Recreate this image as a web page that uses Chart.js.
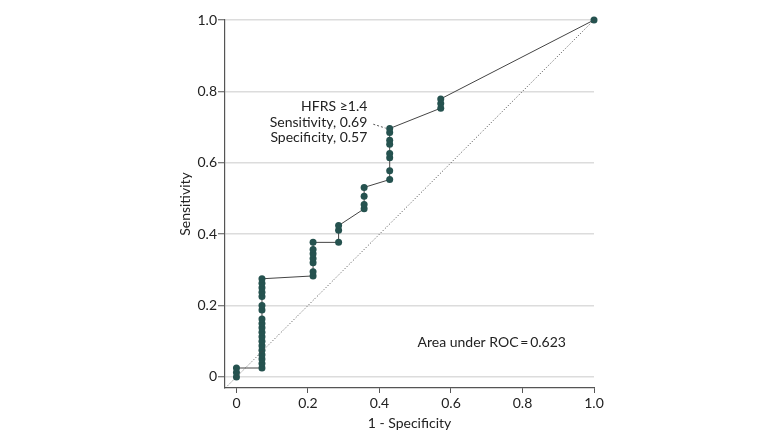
<!DOCTYPE html>
<html>
<head>
<meta charset="utf-8">
<script src="https://cdn.jsdelivr.net/npm/chart.js@4.4.0/dist/chart.umd.min.js"></script>
<style>
  html, body { margin: 0; padding: 0; background: #fff; }
  #wrap { width: 780px; height: 443px; }
</style>
</head>
<body>
<div id="wrap"><canvas id="myChart" width="780" height="443"></canvas></div>
<script>
// ROC points: 1 - specificity (x) and sensitivity (y)
var fpr = [0, 0, 0,
  0.0714, 0.0714, 0.0714, 0.0714, 0.0714, 0.0714, 0.0714, 0.0714, 0.0714, 0.0714, 0.0714, 0.0714,
  0.0714, 0.0714, 0.0714, 0.0714, 0.0714, 0.0714, 0.0714,
  0.2143, 0.2143, 0.2143, 0.2143, 0.2143, 0.2143, 0.2143,
  0.2857, 0.2857, 0.2857,
  0.3571, 0.3571, 0.3571, 0.3571,
  0.4286, 0.4286, 0.4286, 0.4286, 0.4286, 0.4286, 0.4286, 0.4286,
  0.5714, 0.5714, 0.5714,
  1.0];
var tpr = [0, 0.0125, 0.025,
  0.025, 0.0375, 0.05, 0.0625, 0.075, 0.0875, 0.1, 0.1125, 0.125, 0.1375, 0.15, 0.1625,
  0.1875, 0.2, 0.225, 0.2375, 0.25, 0.2625, 0.275,
  0.283, 0.295, 0.32, 0.332, 0.345, 0.357, 0.377,
  0.377, 0.411, 0.424,
  0.471, 0.483, 0.506, 0.531,
  0.553, 0.578, 0.614, 0.626, 0.652, 0.663, 0.685, 0.696,
  0.753, 0.766, 0.779,
  1.0];
var refLine = [-0.03, 1.0];
var tickValues = [0, 0.2, 0.4, 0.6, 0.8, 1.0];
var cutoffLabel = ['HFRS \u22651.4', 'Sensitivity, 0.69', 'Specificity, 0.57'];
var aucLabel = 'Area under ROC\u2009=\u20090.623';

var FONT = 'Lato, "DejaVu Sans", sans-serif';
var rocData = fpr.map(function (x, i) { return { x: x, y: tpr[i] }; });
var diagData = refLine.map(function (v) { return { x: v, y: v }; });

var notes = {
  id: 'notes',
  afterDatasetsDraw: function (chart) {
    var c = chart.ctx, xs = chart.scales.x, ys = chart.scales.y;
    c.save();
    c.fillStyle = '#222';
    c.font = '14px ' + FONT;
    c.textAlign = 'right';
    c.textBaseline = 'middle';
    var tx = xs.getPixelForValue(0.366);
    var lineY = [0.757, 0.713, 0.670];
    cutoffLabel.forEach(function (t, i) {
      c.fillText(t, tx, ys.getPixelForValue(lineY[i]));
    });
    // leader from label to the cutoff point
    c.strokeStyle = '#555';
    c.lineWidth = 1;
    c.setLineDash([2, 2]);
    c.beginPath();
    c.moveTo(tx + 6, ys.getPixelForValue(0.708));
    c.lineTo(xs.getPixelForValue(0.4286) - 4, ys.getPixelForValue(0.697));
    c.stroke();
    c.setLineDash([]);
    c.textAlign = 'center';
    c.fillText(aucLabel, xs.getPixelForValue(0.714), ys.getPixelForValue(0.096));
    c.restore();
  }
};

var ctx = document.getElementById('myChart').getContext('2d');
var chart = new Chart(ctx, {
  type: 'scatter',
  data: {
    datasets: [{
      data: diagData,
      showLine: true,
      borderColor: '#444',
      borderWidth: 1,
      borderDash: [1, 2],
      pointRadius: 0
    }, {
      data: rocData,
      showLine: true,
      clip: false,
      borderColor: '#444',
      borderWidth: 1,
      pointRadius: 3.5,
      pointBorderWidth: 0,
      pointBackgroundColor: '#25524f'
    }]
  },
  plugins: [notes],
  options: {
    responsive: false,
    animation: false,
    layout: { padding: { left: 177, right: 186, top: 20, bottom: 8 } },
    plugins: { legend: { display: false }, tooltip: { enabled: false } },
    scales: {
      x: {
        type: 'linear', min: -0.032, max: 1.0,
        afterBuildTicks: function (s) { s.ticks = tickValues.map(function (v) { return { value: v }; }); },
        afterFit: function (s) { s.height = 47; },
        grid: { drawOnChartArea: false, drawTicks: true, tickLength: 5, tickColor: '#555', tickWidth: 1 },
        border: { display: true, color: '#555', width: 1.2 },
        ticks: {
          padding: 2, color: '#222', font: { family: FONT, size: 14 }, maxRotation: 0,
          callback: function (v) { return v === 0 ? '0' : v.toFixed(1); }
        },
        title: { display: true, text: '1 - Specificity', color: '#222', font: { family: FONT, size: 14 }, padding: { top: 0, bottom: 3 } }
      },
      y: {
        type: 'linear', min: -0.031, max: 1.0,
        afterBuildTicks: function (s) { s.ticks = tickValues.map(function (v) { return { value: v }; }); },
        afterFit: function (s) { s.width = 48; },
        grid: { color: '#dcdcdc', lineWidth: 1.5, drawTicks: true, tickLength: 7, tickColor: '#555', tickWidth: 1 },
        border: { display: true, color: '#555', width: 1.2 },
        ticks: {
          padding: 1, color: '#222', font: { family: FONT, size: 14 },
          callback: function (v) { return v === 0 ? '0' : v.toFixed(1); }
        },
        title: { display: true, text: 'Sensitivity', color: '#222', font: { family: FONT, size: 14 }, padding: { top: 0, bottom: 0 } }
      }
    }
  }
});
</script>
</body>
</html>
